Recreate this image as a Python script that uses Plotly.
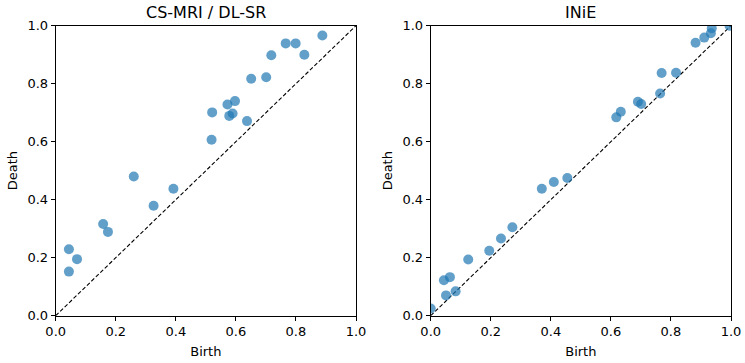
import plotly.graph_objects as go

titles = ["CS-MRI / DL-SR", "INiE"]

left_birth = [0.044, 0.044, 0.071, 0.158, 0.174, 0.260, 0.326, 0.392, 0.521, 0.519, 0.572,
              0.597, 0.578, 0.589, 0.637, 0.651, 0.701, 0.718, 0.766, 0.799, 0.828, 0.888]
left_death = [0.229, 0.152, 0.195, 0.316, 0.289, 0.480, 0.379, 0.438, 0.701, 0.607, 0.728,
              0.740, 0.689, 0.697, 0.671, 0.817, 0.822, 0.898, 0.939, 0.939, 0.900, 0.966]

right_birth = [0.0, 0.044, 0.064, 0.051, 0.083, 0.125, 0.195, 0.234, 0.272, 0.370, 0.410,
               0.455, 0.618, 0.633, 0.690, 0.701, 0.769, 0.764, 0.817, 0.882, 0.911, 0.933,
               0.936, 0.995]
right_death = [0.025, 0.122, 0.133, 0.070, 0.084, 0.194, 0.224, 0.266, 0.305, 0.438, 0.461,
               0.475, 0.684, 0.703, 0.738, 0.730, 0.837, 0.766, 0.838, 0.941, 0.959, 0.974,
               0.991, 1.0]

diag = [0.0, 1.0]
ticks = [0.0, 0.2, 0.4, 0.6, 0.8, 1.0]

W, H = 745, 363
ytop, ybot = 25.7, 315.7
doms = [(55.7, 356.0), (430.7, 731.0)]

fig = go.Figure()
data = [(left_birth, left_death), (right_birth, right_death)]
for i, (bx, dy) in enumerate(data):
    sfx = "" if i == 0 else "2"
    fig.add_trace(go.Scatter(x=diag, y=diag, mode="lines",
                             line=dict(color="black", width=1.1, dash="4px,2.2px"),
                             xaxis="x" + sfx, yaxis="y" + sfx, showlegend=False,
                             hoverinfo="skip"))
    fig.add_trace(go.Scatter(x=bx, y=dy, mode="markers",
                             marker=dict(color="#1f77b4", size=10, opacity=0.7,
                                         line=dict(width=0)),
                             xaxis="x" + sfx, yaxis="y" + sfx, showlegend=False,
                             cliponaxis=True))

axcommon = dict(range=[0, 1], tickvals=ticks, ticktext=[f"{t:.1f}" for t in ticks],
                showgrid=False, zeroline=False, showline=True, linecolor="black",
                linewidth=1, mirror=True, ticks="outside", ticklen=4, tickwidth=1,
                automargin=False,
                tickcolor="black", tickfont=dict(family="DejaVu Sans", size=13, color="black"))

layout = dict(width=W, height=H, margin=dict(l=0, r=0, t=0, b=0),
              plot_bgcolor="white", paper_bgcolor="white",
              font=dict(family="DejaVu Sans", color="black"))
for i, (x0, x1) in enumerate(doms):
    sfx = "" if i == 0 else "2"
    xa = dict(axcommon, domain=[x0 / W, x1 / W], anchor="y" + sfx,
              title=dict(text="Birth", font=dict(size=13), standoff=8))
    ya = dict(axcommon, domain=[1 - ybot / H, 1 - ytop / H], anchor="x" + sfx,
              title=dict(text="Death", font=dict(size=13), standoff=6))
    layout["xaxis" + sfx] = xa
    layout["yaxis" + sfx] = ya

annotations = []
for i, (x0, x1) in enumerate(doms):
    annotations.append(dict(text=titles[i], x=(x0 + x1) / 2 / W, y=1 - 12 / H,
                            xref="paper", yref="paper", showarrow=False,
                            font=dict(size=16, family="DejaVu Sans", color="black"),
                            xanchor="center", yanchor="middle"))
layout["annotations"] = annotations
fig.update_layout(**layout)
fig.write_html("out.html")
